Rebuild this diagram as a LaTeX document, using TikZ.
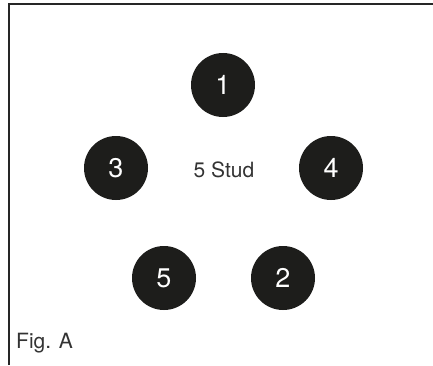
\documentclass[tikz,border=0pt]{standalone}
\usepackage{fontspec}
\setmainfont{TeX Gyre Heros}
\usepackage{tikz}
\usetikzlibrary{positioning}
\definecolor{studblack}{HTML}{1D1D1B}
\definecolor{labelgray}{HTML}{333333}
\tikzset{
  stud/.style={circle, fill=studblack, text=white, minimum size=64pt, inner sep=0pt, font=\fontsize{27}{30}\selectfont},
  caption/.style={text=labelgray, inner sep=0pt, font=\fontsize{21}{25}\selectfont}
}
\begin{document}
\begin{tikzpicture}[x=1pt, y=1pt]
  \useasboundingbox (0,0) rectangle (433,365);
  % Rahmen
  \draw[line width=1.3pt, black!85] (9,0) |- (433,361);
  % Bolzen
  \node[stud] (s1) at (223,280) {1};
  \node[stud] (s3) at (116,197) {3};
  \node[stud] (s4) at (331,197) {4};
  \node[stud] (s5) at (164,87) {5};
  \node[stud] (s2) at (283,87) {2};
  % Beschriftung
  \node[caption] (mid) at (224,195) {5 Stud};
  \node[caption, anchor=south west] (fig) at (16,12) {Fig. A};
\end{tikzpicture}
\end{document}
